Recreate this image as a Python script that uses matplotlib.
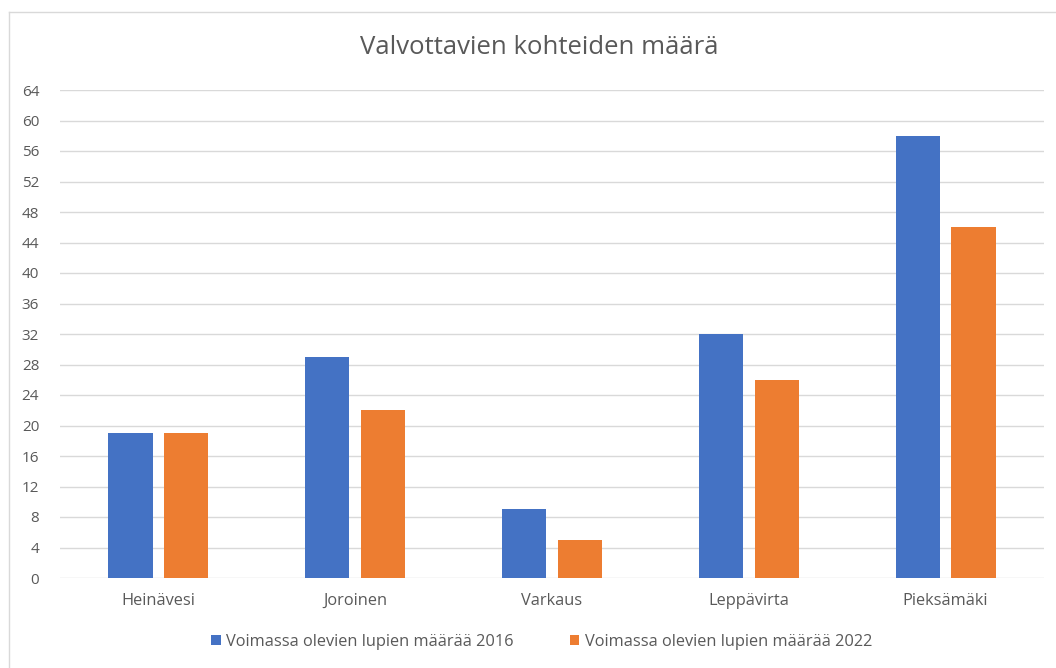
import numpy as np
import matplotlib
matplotlib.use("Agg")
from matplotlib import pyplot as plt
from matplotlib.lines import Line2D

# data
kunnat = ["Heinävesi", "Joroinen", "Varkaus", "Leppävirta", "Pieksämäki"]
luvat_2016 = [19, 29, 9, 32, 58]
luvat_2022 = [19, 22, 5, 26, 46]
sarjat = ["Voimassa olevien lupien määrää 2016", "Voimassa olevien lupien määrää 2022"]
y_ticks = list(range(0, 65, 4))

plt.rcParams['font.family'] = ['Open Sans', 'DejaVu Sans']
grey = '#595959'

fig = plt.figure(figsize=(10.56, 6.68), dpi=100)
ax = fig.add_axes([60/1056, 1-578/668, (1044-60)/1056, (578-90)/668])

x = np.arange(len(kunnat))
w = 0.225
off = 0.142
ax.bar(x-off, luvat_2016, w, color='#4472c4', label=sarjat[0], zorder=3)
ax.bar(x+off, luvat_2022, w, color='#ed7d31', label=sarjat[1], zorder=3)

ax.set_xlim(-0.5, len(kunnat)-0.5)
ax.set_ylim(0, 64)
ax.set_yticks(y_ticks)
ax.set_xticks(x)
ax.set_xticklabels(kunnat)
ax.tick_params(axis='both', length=0, colors=grey, labelsize=11)
ax.tick_params(axis='x', pad=11, labelsize=11.8)
ax.tick_params(axis='y', pad=15)
ax.grid(axis='y', color='#d9d9d9', linewidth=1, zorder=0)
for s in ax.spines.values():
    s.set_visible(False)

fig.text(539/1056, 1-47/668, "Valvottavien kohteiden määrä", ha='center', va='center',
         fontsize=18.5, color=grey)

fig.legend(loc='center', bbox_to_anchor=(0.513, 1-642/668), ncol=2, frameon=False,
           fontsize=11.8, labelcolor=grey, handlelength=0.6, handleheight=0.6,
           handletextpad=0.35, columnspacing=3.4)

# chart frame (only top and left edges are visible in the picture)
fig.add_artist(Line2D([9/1056, 9/1056], [0, 1-12/668], transform=fig.transFigure,
                      color='#d9d9d9', linewidth=1))
fig.add_artist(Line2D([9/1056, 1], [1-12/668, 1-12/668], transform=fig.transFigure,
                      color='#d9d9d9', linewidth=1))

fig.savefig("out.png", dpi=100, facecolor='white')
